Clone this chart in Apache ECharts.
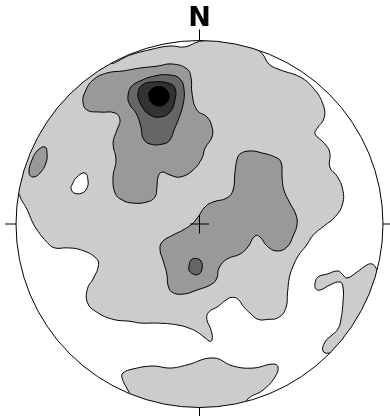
<!DOCTYPE html>
<html>
<head>
<meta charset="utf-8">
<script src="https://cdn.jsdelivr.net/npm/echarts@6/dist/echarts.min.js"></script>
<style>
  html, body { margin: 0; padding: 0; background: #fff; }
  #chart { width: 390px; height: 416px; }
</style>
</head>
<body>
<div id="chart"></div>
<script>
// Equal-area net of pole density. Positions are in percent of the net radius
// (x to the east, y to the north, origin at the net centre).

// Lowest density level (light grey), open towards the N and W edge of the net
const level1 = [
  [-49,88],[-38,92],[-27,95],[-16,97],[-8,96.5],[0,99.5],[8,100],[19,99],[29,96],[34,93],
  [38,87],[44,84],[55,80],[62,74],[67,66],[68,58],[64,52],[63,49],[68,44],[71,39],
  [71,31],[75,26],[78,19],[78,11],[74,4],[68,-1],[62,-6],[58,-12],[54,-17],[51,-23],
  [49,-29],[48,-37],[47,-46],[43,-51],[37,-52],[32,-52],[28,-49],[24,-45],[21,-41],[18,-40],
  [15,-41],[10,-45],[5,-48],[4,-52],[6,-57],[7,-62],[6,-64],[3,-62],[-1,-59],[-5,-57],
  [-12,-55],[-23,-54],[-32,-54],[-38,-53],[-47,-52],[-56,-48],[-61,-43],[-61,-35],[-58,-30],[-55,-22],
  [-57,-18],[-65,-14],[-72,-13],[-79,-13],[-83,-10],[-88,-4],[-91,1],[-94,8],[-97,13],[-99.5,17],
  [-112,18],[-112,60],[-87,87],[-60,102],[-49,102]
];
// Empty pocket inside the lowest level
const hole1 = [
  [-69.5,21.3],[-66.8,25.6],[-62.4,27.8],[-60.8,24],[-61.3,19.6],[-64,16.9],[-68.4,16.9],[-70,19.6]
];
// Lowest level, patch near the S rim
const level1South = [
  [-42.2,-83.9],[-41.7,-81.2],[-36.2,-79],[-25.3,-77.4],[-16.1,-78.5],[-6.8,-76.8],[7.4,-73],
  [18.3,-77.4],[29.2,-78.5],[40.1,-76.3],[42.8,-77.9],[41.1,-83.4],[34.6,-90.5],[25.9,-95.9],
  [24.8,-103],[0.3,-106],[-21.5,-103],[-35.1,-97],[-39,-90.5]
];
// Lowest level, hooked patch near the SE rim
const level1East = [
  [63.5,-35.4],[62.9,-32.7],[64.6,-28.9],[69.5,-27.3],[75.5,-25.6],[78.2,-27.8],[80.4,-29.4],
  [85.8,-26.2],[91.3,-22.3],[94,-21.8],[96.2,-24],[99.5,-31.6],[97.3,-44.1],[88.6,-58.9],
  [77.7,-67],[71.1,-70.3],[67.3,-69.2],[68.4,-64.3],[72.2,-60.5],[75.5,-57.2],[77.1,-51.8],
  [78.2,-42.5],[78.2,-34.3],[76.6,-31.6],[71.1,-33.2],[65.7,-36]
];
// Second level (mid grey)
const level2West = [
  [-92.9,27.8],[-91.3,34.9],[-88,40.3],[-84.2,42],[-83.1,38.7],[-83.7,33.2],[-86.9,27.8],[-90.7,25.6]
];
const level2North = [
  [-62.4,71.9],[-58,78.5],[-50.4,82.3],[-41.7,83.4],[-32.4,85],[-23.2,86],[-15,87.2],[-6.8,84.5],
  [-4.6,79.6],[-4.1,71.4],[-1.4,62.1],[4.1,58.3],[6.8,52.9],[6.8,47.4],[3,41.4],[1.4,36],
  [-3.5,29.4],[-10.6,25.6],[-16.1,26.7],[-20.4,28.3],[-22.6,25.6],[-23.2,20.2],[-24.3,14.7],
  [-28.6,12],[-36.2,11.4],[-42.2,13.1],[-46,16.9],[-47.1,25.6],[-45.5,34.9],[-47.1,44.1],
  [-45,51.2],[-43.3,56.7],[-46,60.5],[-54.2,61],[-61.3,62.1],[-63.5,66.5]
];
const level2Centre = [
  [20.4,34.9],[22.1,38.2],[27.5,39.8],[34.1,38.7],[41.1,36.5],[44.4,33.8],[45,25.6],[46,18.5],
  [49.3,11.4],[52.6,4.9],[53.1,-0.5],[51,-6.5],[47.7,-12.5],[42.2,-14.7],[36.8,-12],[33,-7.1],
  [30.2,-6.5],[26.4,-12.5],[22.1,-16.4],[15,-19.1],[10.6,-24],[9.5,-29.4],[6.8,-32.7],[-1.4,-36],
  [-9,-38.2],[-15,-37.1],[-17.2,-33.2],[-17.7,-27.8],[-19.9,-19.6],[-21.5,-14.2],[-20.4,-9.8],
  [-14.4,-6],[-9,-3.3],[-4.1,0],[-0.8,3.8],[3,9.3],[7.4,12],[15,14.2],[18.3,18.5],[19.3,27.8]
];
// Third level (dark grey)
const level3North = [
  [-39,69.2],[-37.3,74.7],[-32.4,77.9],[-24.3,80.7],[-16.1,81.2],[-10.6,79],[-8.4,73],[-9,64.9],
  [-11.2,57.8],[-13.9,51.2],[-16.1,45.8],[-19.9,43.6],[-27,43.6],[-30.8,46.9],[-31.9,52.9],
  [-34.6,60.5],[-37.9,64.9]
];
const level3Centre = [
  [-5.7,-22.9],[-4.6,-19.6],[-1.9,-18.8],[0.8,-20.2],[1.4,-24],[-0.3,-27.3],[-3.5,-27.3],[-5.7,-25.1]
];
// Fourth level (near black)
const level4 = [
  [-33.5,71.4],[-31.3,75.7],[-25.3,77.4],[-17.2,76.8],[-13.4,74.1],[-13.4,67.6],[-16.1,61],
  [-21.5,58.3],[-27,59.4],[-30.8,63.2],[-33,67.6]
];
// Maximum
const level5 = [
  [-27.5,71.4],[-25.3,74.1],[-20.4,74.7],[-17.2,71.9],[-16.6,68.7],[-18.8,65.4],[-22.6,64.3],
  [-25.9,65.9],[-27.5,69.2]
];

const fills = ['#cccccc', '#999999', '#666666', '#333333', '#000000'];
const NET_RADIUS = 100;

function area(name, pts, fill) {
  return {
    type: 'custom',
    name: name,
    coordinateSystem: 'cartesian2d',
    silent: true,
    animation: false,
    data: pts,
    renderItem: function (params, api) {
      if (params.dataIndex !== 0) return null;
      return {
        type: 'polygon',
        shape: { points: pts.map(function (p) { return api.coord(p); }), smooth: 0.45 },
        style: { fill: fill, stroke: '#000', lineWidth: 1 }
      };
    }
  };
}

// Net outline, cardinal ticks, centre cross and the N label
const frame = {
  type: 'custom',
  name: 'net',
  coordinateSystem: 'cartesian2d',
  silent: true,
  animation: false,
  data: [[0, 0]],
  renderItem: function (params, api) {
    const c = api.coord([0, 0]);
    const r = api.size([NET_RADIUS, 0])[0];
    const cx = c[0], cy = c[1];
    const tick = 11, arm = 9.5;
    const line = function (x1, y1, x2, y2) {
      return { type: 'line', shape: { x1: x1, y1: y1, x2: x2, y2: y2 }, style: { stroke: '#000', lineWidth: 1 } };
    };
    return {
      type: 'group',
      children: [
        { type: 'circle', shape: { cx: cx, cy: cy, r: r + 50 }, style: { fill: 'none', stroke: '#fff', lineWidth: 100 } },
        { type: 'circle', shape: { cx: cx, cy: cy, r: r }, style: { fill: 'none', stroke: '#000', lineWidth: 1 } },
        line(cx, cy - r, cx, cy - r - tick),
        line(cx, cy + r, cx, cy + r + tick),
        line(cx - r, cy, cx - r - tick, cy),
        line(cx + r, cy, cx + r + tick, cy),
        line(cx - arm, cy, cx + arm, cy),
        line(cx, cy - arm, cx, cy + arm),
        {
          type: 'text', x: cx, y: cy - r - 21.5,
          style: { text: 'N', font: 'bold 27px "DejaVu Sans", "Liberation Sans", sans-serif', fill: '#000', align: 'center', verticalAlign: 'middle' }
        }
      ]
    };
  }
};

const chart = echarts.init(document.getElementById('chart'), null, { renderer: 'canvas' });
chart.setOption({
  animation: false,
  backgroundColor: '#fff',
  grid: { left: 16, top: 40.5, width: 367, height: 367 },
  xAxis: { type: 'value', min: -NET_RADIUS, max: NET_RADIUS, show: false },
  yAxis: { type: 'value', min: -NET_RADIUS, max: NET_RADIUS, show: false },
  series: [
    area('level 1', level1, fills[0]),
    area('level 1 gap', hole1, '#ffffff'),
    area('level 1 south', level1South, fills[0]),
    area('level 1 east', level1East, fills[0]),
    area('level 2 west', level2West, fills[1]),
    area('level 2 north', level2North, fills[1]),
    area('level 2 centre', level2Centre, fills[1]),
    area('level 3 north', level3North, fills[2]),
    area('level 3 centre', level3Centre, fills[2]),
    area('level 4', level4, fills[3]),
    area('level 5', level5, fills[4]),
    frame
  ]
});
</script>
</body>
</html>
